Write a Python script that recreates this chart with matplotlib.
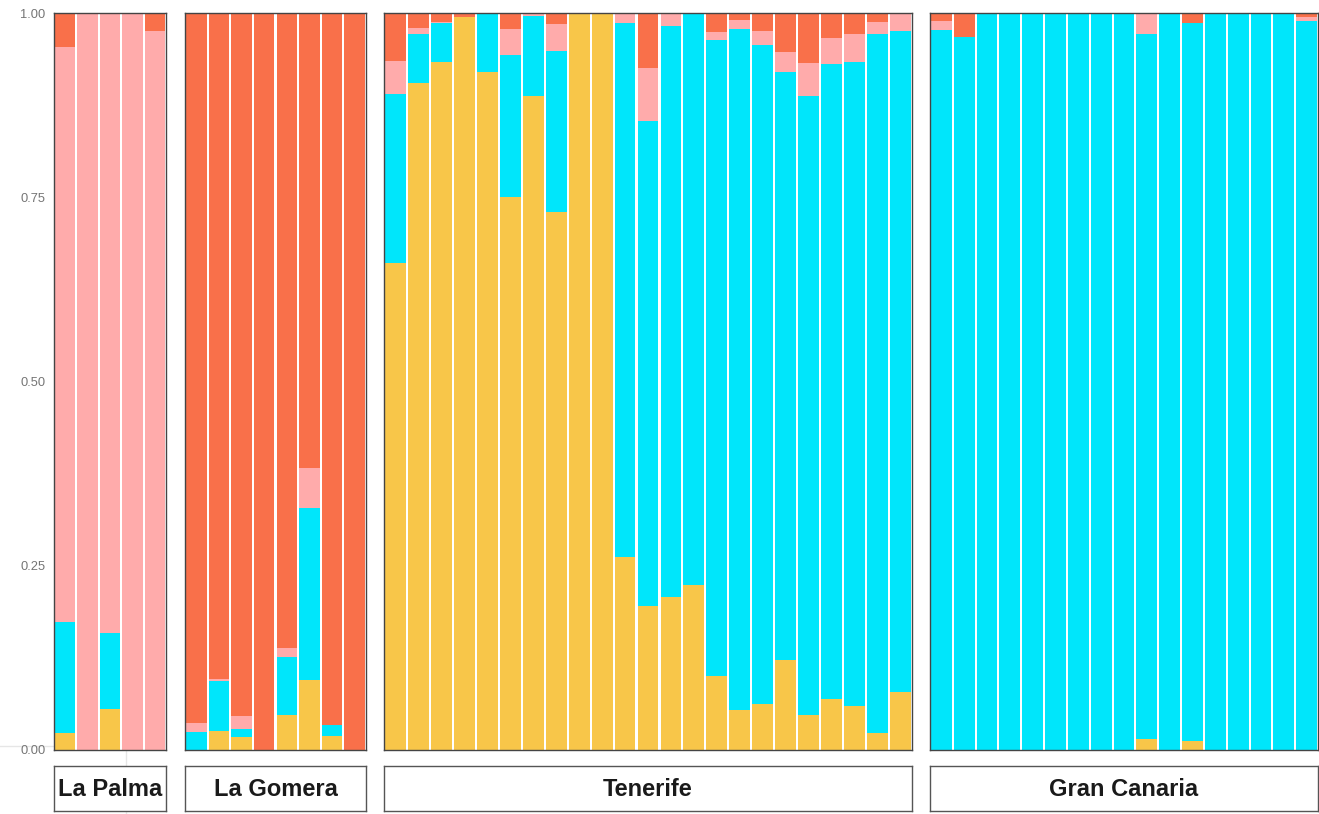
import matplotlib
matplotlib.use("Agg")
import matplotlib.pyplot as plt
from matplotlib.lines import Line2D
import numpy as np

plt.rcParams['font.family'] = ['Liberation Sans', 'DejaVu Sans']

islands = ["La Palma", "La Gomera", "Tenerife", "Gran Canaria"]

# component proportions per individual (bottom -> top): K1 yellow, K2 cyan, K3 pink, K4 orange
la_palma_k1 = [0.023, 0, 0.055, 0, 0]
la_palma_k2 = [0.151, 0, 0.104, 0, 0]
la_palma_k3 = [0.780, 1, 0.841, 1, 0.976]
la_palma_k4 = [0.046, 0, 0, 0, 0.024]

la_gomera_k1 = [0, 0.026, 0.017, 0, 0.048, 0.095, 0.019, 0]
la_gomera_k2 = [0.024, 0.067, 0.011, 0, 0.078, 0.233, 0.015, 0]
la_gomera_k3 = [0.013, 0.003, 0.018, 0, 0.013, 0.055, 0, 0]
la_gomera_k4 = [0.963, 0.904, 0.954, 1, 0.861, 0.617, 0.966, 1]

tenerife_k1 = [0.661, 0.905, 0.934, 0.994, 0.920, 0.750, 0.888, 0.730, 1, 1, 0.262, 0.196,
               0.208, 0.224, 0.101, 0.054, 0.062, 0.122, 0.047, 0.069, 0.060, 0.023, 0.079]
tenerife_k2 = [0.229, 0.066, 0.053, 0, 0.080, 0.193, 0.108, 0.219, 0, 0, 0.724, 0.657,
               0.775, 0.776, 0.863, 0.924, 0.894, 0.798, 0.841, 0.862, 0.873, 0.948, 0.896]
tenerife_k3 = [0.045, 0.008, 0.001, 0, 0, 0.035, 0.004, 0.036, 0, 0, 0.014, 0.073,
               0.017, 0, 0.010, 0.013, 0.019, 0.027, 0.044, 0.035, 0.038, 0.017, 0.025]
tenerife_k4 = [0.065, 0.021, 0.012, 0.006, 0, 0.022, 0, 0.015, 0, 0, 0, 0.074,
               0, 0, 0.026, 0.009, 0.025, 0.053, 0.068, 0.034, 0.029, 0.012, 0]

gran_canaria_k1 = [0, 0, 0, 0, 0, 0, 0, 0, 0, 0.015, 0, 0.012, 0, 0, 0, 0, 0]
gran_canaria_k2 = [0.977, 0.967, 1, 1, 1, 1, 1, 1, 1, 0.957, 1, 0.974, 1, 1, 1, 1, 0.989]
gran_canaria_k3 = [0.012, 0, 0, 0, 0, 0, 0, 0, 0, 0.028, 0, 0, 0, 0, 0, 0, 0.006]
gran_canaria_k4 = [0.011, 0.033, 0, 0, 0, 0, 0, 0, 0, 0, 0, 0.014, 0, 0, 0, 0, 0.005]

y_ticks = [0.00, 0.25, 0.50, 0.75, 1.00]
y_tick_labels = ["0.00", "0.25", "0.50", "0.75", "1.00"]

colors = ["#F8C649", "#00E6FB", "#FFABAB", "#F9704A"]

data = [
    [la_palma_k1, la_palma_k2, la_palma_k3, la_palma_k4],
    [la_gomera_k1, la_gomera_k2, la_gomera_k3, la_gomera_k4],
    [tenerife_k1, tenerife_k2, tenerife_k3, tenerife_k4],
    [gran_canaria_k1, gran_canaria_k2, gran_canaria_k3, gran_canaria_k4],
]

W, H = 1319, 814
fig = plt.figure(figsize=(W / 100, H / 100), dpi=100)

# panel pixel extents (left, right)
panel_px = [(54, 166), (185, 366), (384, 912), (930, 1318)]
y_top, y_bot = 13, 750
s_top, s_bot = 766, 811

for i, (name, comps) in enumerate(zip(islands, data)):
    n = len(comps[0])
    x0, x1 = panel_px[i]
    w = x1 - x0
    ax = fig.add_axes([x0 / W, 1 - y_bot / H, w / W, (y_bot - y_top) / H])
    pos = np.arange(n)
    bottom = np.zeros(n)
    for vals, c in zip(comps, colors):
        v = np.array(vals, dtype=float)
        ax.bar(pos, v, width=0.91, bottom=bottom, color=c, linewidth=0, zorder=2)
        bottom += v
    ax.set_xlim(-0.5, n - 0.5)
    ax.set_ylim(0, 1)
    ax.set_xticks([])
    ax.set_yticks(y_ticks)
    if i == 0:
        ax.set_yticklabels(y_tick_labels, fontsize=9.3, color="#757575")
        ax.tick_params(axis="y", length=0, pad=6)
    else:
        ax.set_yticklabels([])
        ax.tick_params(axis="y", length=0)
    for sp in ax.spines.values():
        sp.set_color("#444444")
        sp.set_linewidth(1.0)
        sp.set_zorder(5)
    ax.set_facecolor("white")

    sax = fig.add_axes([x0 / W, 1 - s_bot / H, w / W, (s_bot - s_top) / H])
    sax.set_xticks([])
    sax.set_yticks([])
    for sp in sax.spines.values():
        sp.set_color("#555555")
        sp.set_linewidth(1.0)
    sax.text(0.5, 0.47, name, ha="center", va="center", fontsize=17,
             fontweight="bold", color="#1a1a1a", transform=sax.transAxes)

# faint guide-line artifacts seen in the reference
fig.add_artist(Line2D([0, 54 / W], [1 - 746 / H, 1 - 746 / H], color="#e6e6e6",
                      linewidth=1.0, zorder=0))
fig.add_artist(Line2D([126 / W, 126 / W], [0, 1 - 751 / H], color="#e6e6e6",
                      linewidth=1.0, zorder=0))

fig.savefig("out.png", dpi=100, facecolor="white")
